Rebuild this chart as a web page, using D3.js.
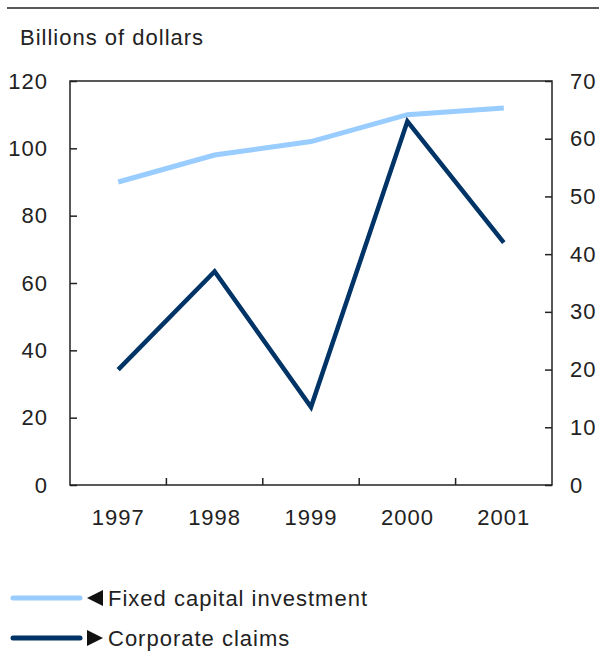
<!DOCTYPE html>
<html>
<head>
<meta charset="utf-8">
<script src="https://cdn.jsdelivr.net/npm/d3@7"></script>
<style>
    body { margin: 0; background: #fff; }
    svg text { font-family: "Liberation Sans", Arial, sans-serif; font-size: 22px; fill: #222; letter-spacing: 1px; }
</style>
</head>
<body>
<svg id="grafico" width="599" height="664"></svg>
<script>
    let anos = ["1997", "1998", "1999", "2000", "2001"];
    let investimento = [90, 98, 102, 110, 112];   // eixo esquerdo
    let reclamacoes = [20, 37, 13.5, 63, 42];     // eixo direito
    let ticksEsquerda = [0, 20, 40, 60, 80, 100, 120];
    let ticksDireita = [0, 10, 20, 30, 40, 50, 60, 70];
    let legendas = ["Fixed capital investment", "Corporate claims"];
    let cores = ["#99ccff", "#003366"];

    let mEsq = 70, mDir = 552, mTopo = 81, mBase = 485;

    let svg = d3.select("#grafico");

    let x = d3.scaleBand().domain(anos).range([mEsq, mDir]);
    let yEsq = d3.scaleLinear().domain([0, 120]).range([mBase, mTopo]);
    let yDir = d3.scaleLinear().domain([0, 70]).range([mBase, mTopo]);

    // linha do topo
    svg.append("line")
        .attr("x1", 7).attr("x2", 599)
        .attr("y1", 8).attr("y2", 8)
        .attr("stroke", "#222").attr("stroke-width", 1.5);

    svg.append("text")
        .attr("x", 20).attr("y", 45)
        .text("Billions of dollars");

    // eixos
    let eixoEsq = svg.append("g")
        .attr("transform", `translate(${mEsq},0)`)
        .call(d3.axisLeft(yEsq).tickValues(ticksEsquerda).tickSize(-7).tickPadding(22));

    let eixoDir = svg.append("g")
        .attr("transform", `translate(${mDir},0)`)
        .call(d3.axisRight(yDir).tickValues(ticksDireita).tickSize(-7).tickPadding(18));

    let eixoX = svg.append("g")
        .attr("transform", `translate(0,${mBase})`)
        .call(d3.axisBottom(x).tickSize(0).tickPadding(24));

    [eixoEsq, eixoDir, eixoX].forEach(g => {
        g.select(".domain").remove();
        g.selectAll("text").attr("font-size", null).attr("font-family", null).attr("fill", null);
        g.selectAll("line").attr("stroke", "#222").attr("stroke-width", 1.5);
    });
    eixoX.selectAll("text").attr("dy", "0.71em");

    // ticks entre as categorias
    svg.append("g")
        .selectAll("line")
        .data(anos.slice(1))
        .enter()
        .append("line")
        .attr("x1", d => x(d)).attr("x2", d => x(d))
        .attr("y1", mBase).attr("y2", mBase - 7)
        .attr("stroke", "#222").attr("stroke-width", 1.5);

    // moldura
    svg.append("rect")
        .attr("x", mEsq).attr("y", mTopo)
        .attr("width", mDir - mEsq).attr("height", mBase - mTopo)
        .attr("fill", "none").attr("stroke", "#222").attr("stroke-width", 1.5);

    let cx = d => x(d) + x.bandwidth() / 2;

    let linhaEsq = d3.line().x((d, i) => cx(anos[i])).y(d => yEsq(d));
    let linhaDir = d3.line().x((d, i) => cx(anos[i])).y(d => yDir(d));

    svg.append("path")
        .attr("d", linhaEsq(investimento))
        .attr("fill", "none").attr("stroke", cores[0]).attr("stroke-width", 5);

    svg.append("path")
        .attr("d", linhaDir(reclamacoes))
        .attr("fill", "none").attr("stroke", cores[1]).attr("stroke-width", 4.5);

    // legenda
    let leg = svg.selectAll(".leg")
        .data(legendas)
        .enter()
        .append("g")
        .attr("class", "leg")
        .attr("transform", (d, i) => `translate(0, ${598 + i * 40})`);

    leg.append("line")
        .attr("x1", 13).attr("x2", 80)
        .attr("stroke", (d, i) => cores[i])
        .attr("stroke-width", 5)
        .attr("stroke-linecap", "round");

    leg.append("path")
        .attr("d", (d, i) => i === 0 ? "M87,0L103,-8L103,8Z" : "M87,-8L103,0L87,8Z")
        .attr("fill", "#111");

    leg.append("text")
        .attr("x", 108).attr("y", 8)
        .text(d => d);
</script>
</body>
</html>
